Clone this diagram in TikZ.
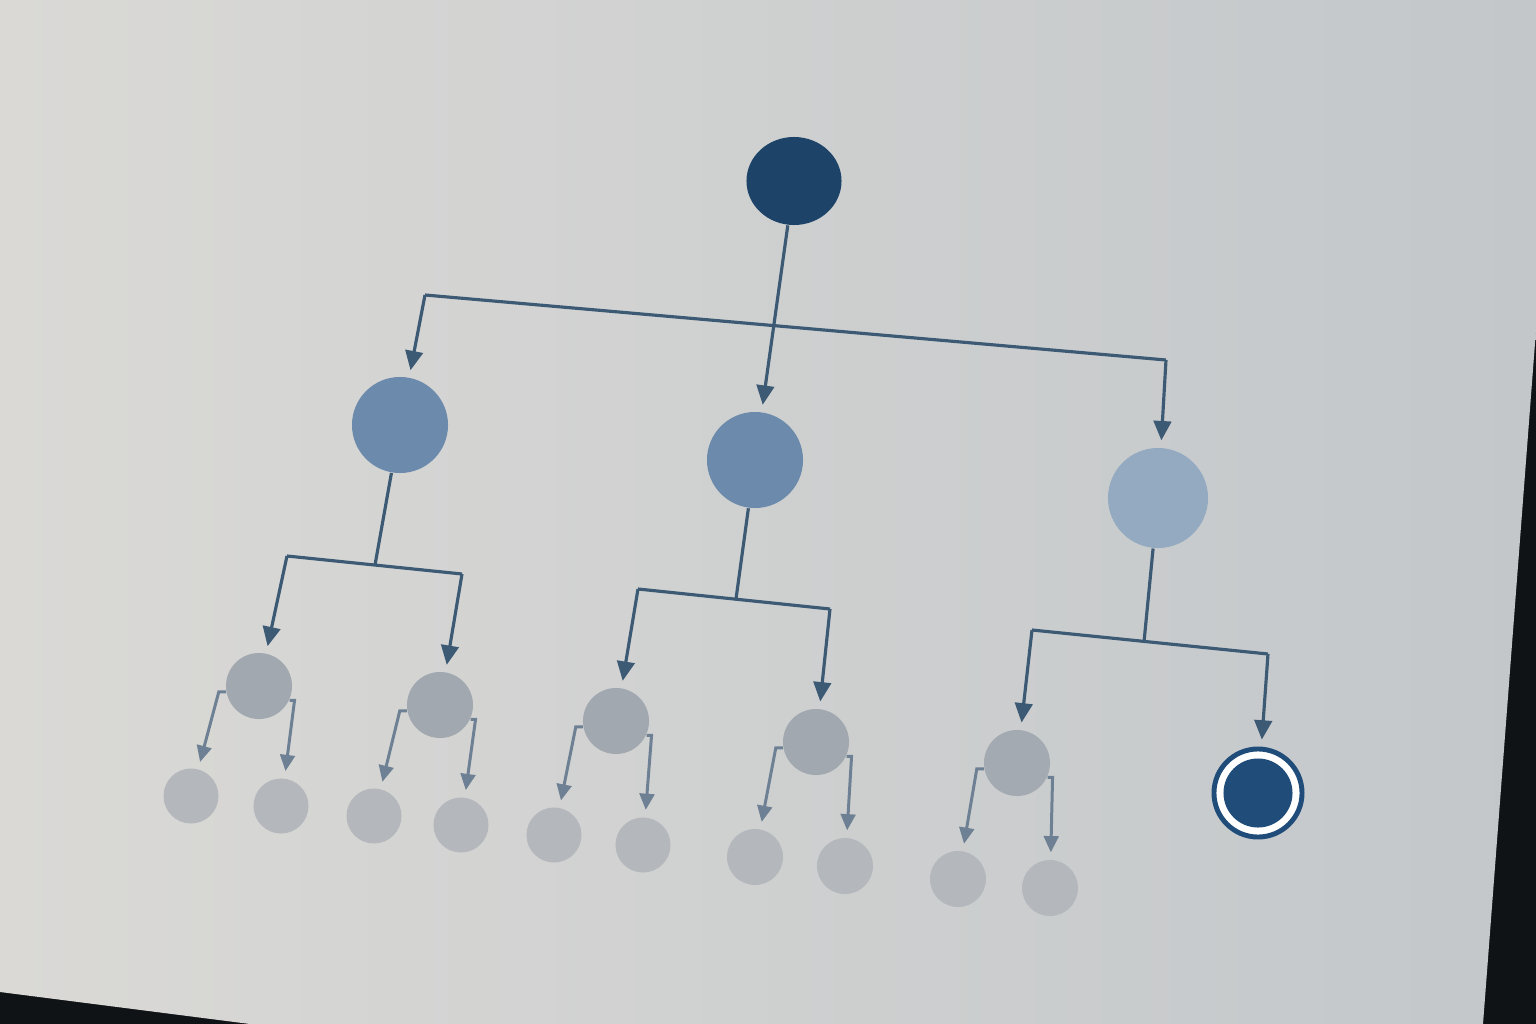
\documentclass[tikz,border=0pt]{standalone}
\usetikzlibrary{arrows.meta,shapes.geometric}
\definecolor{deskdark}{HTML}{0F1316}
\definecolor{paperlight}{HTML}{DAD9D6}
\definecolor{paperdark}{HTML}{C3C7CA}
\definecolor{rootblue}{HTML}{1D4468}
\definecolor{midblue}{HTML}{6C8AAB}
\definecolor{paleblue}{HTML}{94AAC1}
\definecolor{subgray}{HTML}{A1A8AF}
\definecolor{leafgray}{HTML}{B4B8BC}
\definecolor{goalblue}{HTML}{1F4C78}
\definecolor{linkblue}{HTML}{3D5A75}
\definecolor{linkgray}{HTML}{6E8093}
\tikzset{>={Triangle[width=5pt,length=5.5pt]}}
\tikzset{
  rootnode/.style={ellipse,fill=rootblue,minimum width=0.95cm,minimum height=0.88cm,inner sep=0pt},
  midnode/.style={circle,fill=#1,minimum size=0.96cm,inner sep=0pt},
  subnode/.style={circle,fill=subgray,minimum size=0.66cm,inner sep=0pt},
  leafnode/.style={circle,fill=leafgray,minimum size=0.55cm,inner sep=0pt},
  goalnode/.style={circle,draw=goalblue,line width=1.4pt,fill=white,minimum size=0.88cm,inner sep=0pt,
    path picture={\fill[goalblue] (path picture bounding box.center) circle (0.345cm);}},
  toplink/.style={draw=linkblue,line width=0.9pt},
  sublink/.style={draw=linkgray,line width=0.85pt,>={Triangle[width=4.2pt,length=4.6pt]}}
}

\begin{document}
\begin{tikzpicture}[x=0.01cm,y=-0.01cm]
            \useasboundingbox (0,0) rectangle (1536,1024);
            \fill[deskdark] (0,0) rectangle (1536,1024);
            \shade[left color=paperlight,right color=paperdark] (0,0) -- (1536,0) -- (1536,330) -- (1483,1024) -- (250,1024) -- (0,992) -- cycle;

            \node[rootnode] (root) at (794,181) {};
            \node[midnode=midblue] (m1) at (400,425) {};
            \node[midnode=midblue] (m2) at (755,460) {};
            \node[midnode=paleblue,minimum size=1cm] (m3) at (1158,498) {};
            \node[subnode] (s1) at (259,686) {};
            \node[subnode] (s2) at (440,705) {};
            \node[subnode] (s3) at (616,721) {};
            \node[subnode] (s4) at (816,742) {};
            \node[subnode,fill=subgray!85!leafgray] (s5) at (1017,763) {};
            \node[goalnode] (goal) at (1258,793) {};
            \node[leafnode] (l1) at (191,796) {};
            \node[leafnode] (l2) at (281,806) {};
            \node[leafnode] (l3) at (374,816) {};
            \node[leafnode] (l4) at (461,825) {};
            \node[leafnode] (l5) at (554,835) {};
            \node[leafnode] (l6) at (643,845) {};
            \node[leafnode,minimum size=0.56cm] (l7) at (755,857) {};
            \node[leafnode,minimum size=0.56cm] (l8) at (845,866) {};
            \node[leafnode,minimum size=0.56cm] (l9) at (958,879) {};
            \node[leafnode,minimum size=0.56cm] (l10) at (1050,888) {};

            \coordinate (bl) at (425,295);
            \coordinate (br) at (1166,360);
            \coordinate (j1) at (375,565);
            \coordinate (j1l) at (287,556);
            \coordinate (j1r) at (462,574);
            \coordinate (j2) at (736,599);
            \coordinate (j2l) at (638,589);
            \coordinate (j2r) at (830,609);
            \coordinate (j3) at (1144,642);
            \coordinate (j3l) at (1032,630);
            \coordinate (j3r) at (1268,654);

            \draw[toplink,->,shorten >=2pt] (root) -- (m2);
            \draw[toplink] (bl) -- (br);
            \draw[toplink,->,shorten >=2pt] (bl) -- (m1);
            \draw[toplink,->,shorten >=2pt] (br) -- (m3);

            \draw[toplink] (m1) -- (j1);
            \draw[toplink] (j1l) -- (j1r);
            \draw[toplink,->,shorten >=2pt] (j1l) -- (s1);
            \draw[toplink,->,shorten >=2pt] (j1r) -- (s2);
            \draw[toplink] (m2) -- (j2);
            \draw[toplink] (j2l) -- (j2r);
            \draw[toplink,->,shorten >=2pt] (j2l) -- (s3);
            \draw[toplink,->,shorten >=2pt] (j2r) -- (s4);
            \draw[toplink] (m3) -- (j3);
            \draw[toplink] (j3l) -- (j3r);
            \draw[toplink,->,shorten >=2pt] (j3l) -- (s5);
            \draw[toplink,->,shorten >=2pt] (j3r) -- (goal);

            \draw[sublink,->,shorten >=2pt] (s1.190) -- ++(-7,0) -- (l1);
            \draw[sublink,->,shorten >=2pt] (s1.335) -- ++(5,0) -- (l2);
            \draw[sublink,->,shorten >=2pt] (s2.190) -- ++(-7,0) -- (l3);
            \draw[sublink,->,shorten >=2pt] (s2.335) -- ++(5,0) -- (l4);
            \draw[sublink,->,shorten >=2pt] (s3.190) -- ++(-7,0) -- (l5);
            \draw[sublink,->,shorten >=2pt] (s3.335) -- ++(5,0) -- (l6);
            \draw[sublink,->,shorten >=2pt] (s4.190) -- ++(-7,0) -- (l7);
            \draw[sublink,->,shorten >=2pt] (s4.335) -- ++(5,0) -- (l8);
            \draw[sublink,->,shorten >=2pt] (s5.190) -- ++(-7,0) -- (l9);
            \draw[sublink,->,shorten >=2pt] (s5.335) -- ++(5,0) -- (l10);
        \end{tikzpicture}
\end{document}
